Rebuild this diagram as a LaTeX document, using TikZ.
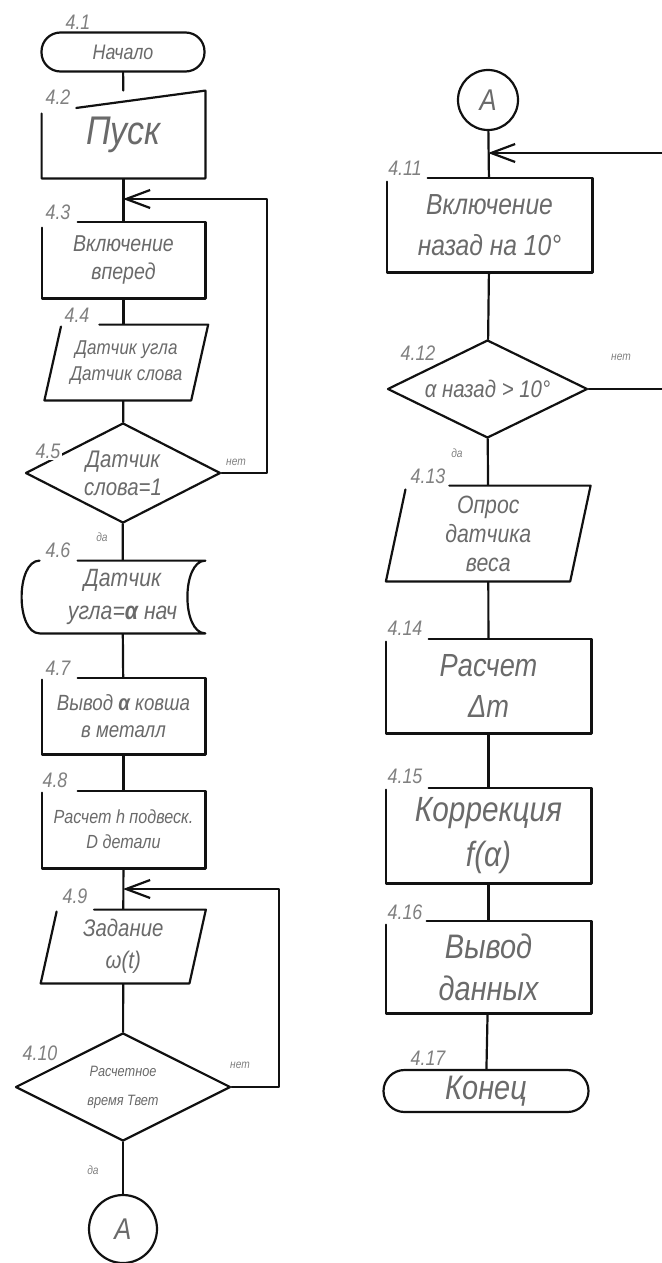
\documentclass[tikz,border=0pt]{standalone}
\usepackage{fontspec}
\newfontfamily\gf[FakeStretch=0.85]{Liberation Sans}
\usetikzlibrary{shapes.geometric,arrows.meta,calc}
\pgfdeclarelayer{bg}
\pgfdeclarelayer{mid}
\pgfsetlayers{bg,mid,main}
\definecolor{ink}{HTML}{111111}
\definecolor{txt}{HTML}{6A6A6A}
\definecolor{numc}{HTML}{808080}
\newcommand\gfs[2]{\gf\itshape\fontsize{#1}{#2}\selectfont}
% rectangle with a gap at the top-left corner
\newcommand\gbox[3]{%
  \begin{pgfonlayer}{mid}
  \fill[white] (#1.north west) rectangle (#1.south east);
  \draw[ln] ([xshift=#2]#1.north west) -- (#1.north east) -- (#1.south east) -- (#1.south west) -- ([yshift=-#3]#1.north west);
  \end{pgfonlayer}}
% parallelogram: name, slant, gap x, gap along left edge
\newcommand\gpara[4]{%
  \begin{pgfonlayer}{mid}
  \fill[white] ([xshift=#2]#1.north west) -- ([xshift=#2]#1.north east) -- ([xshift=-#2]#1.south east) -- ([xshift=-#2]#1.south west) -- cycle;
  \draw[ln] ($([xshift=#2]#1.north west)!#3!([xshift=#2]#1.north east)$) -- ([xshift=#2]#1.north east) -- ([xshift=-#2]#1.south east) -- ([xshift=-#2]#1.south west) -- ($([xshift=#2]#1.north west)!#4!([xshift=-#2]#1.south west)$);
  \end{pgfonlayer}}
\tikzset{
  ln/.style={line width=1.1pt, draw=ink, line cap=round, line join=round},
  blk/.style={draw=none, inner sep=0pt, align=center},
  term/.style={ln, fill=white, rounded corners=9.5pt, inner sep=0pt, align=center},
  dia/.style={ln, fill=white, diamond, aspect=2, inner sep=0pt, align=center},
  conn/.style={ln, circle, fill=white, inner sep=0pt, font=\gfs{15}{15}},
  num/.style={fill=white, inner sep=1pt, text=numc, font=\gfs{10.5}{10.5}},
  yn/.style={inner sep=0pt, text=numc, font=\gfs{6}{6}},
  wire/.style={ln},
  back/.style={ln, -{Straight Barb[length=12pt,width=9pt,line width=1.1pt]}},
}
\begin{document}
\begin{tikzpicture}[x=0.5pt, y=-0.5pt, font=\gfs{10}{12}, text=txt]
\useasboundingbox (0,0) rectangle (661,1263);

% ---------- left column ----------
\node[term, minimum width=81.5pt, minimum height=19.5pt, font=\gfs{10.5}{11}] (b1) at (123,52) {Начало};
\node[blk, minimum width=81.5pt, minimum height=43.5pt, font=\gfs{20}{22}] (b2) at (123.5,134.5) {Пуск};
\node[blk, minimum width=81.5pt, minimum height=38pt, font=\gfs{11.5}{14}] (b3) at (123.5,260) {Включение\\вперед};
\node[blk, minimum width=73pt, minimum height=37.5pt, font=\gfs{10}{13}] (b4) at (126.3,362.5) {Датчик угла\\Датчик слова};
\node[dia, minimum width=97.5pt, minimum height=50pt, font=\gfs{12}{14}] (b5) at (123,473) {Датчик\\слова=1};
\node[blk, minimum width=82.5pt, minimum height=36pt, font=\gfs{12.5}{16.5}] (b6) at (122.5,597) {Датчик\\угла=\textbf{α} нач};
\node[blk, minimum width=81.5pt, minimum height=38pt, font=\gfs{11}{13.5}] (b7) at (123.5,716) {Вывод \textbf{α} ковша\\в металл};
\node[blk, minimum width=81.5pt, minimum height=38.5pt, font=\gfs{9.5}{12.5}] (b8) at (123.5,829.5) {Расчет h подвеск.\\D детали};
\node[blk, minimum width=74pt, minimum height=36.5pt, font=\gfs{12}{16}] (b9) at (123.25,946.5) {Задание\\ω(t)};
\node[dia, minimum width=107.5pt, minimum height=54pt, font=\gfs{7.5}{14.5}] (b10) at (123,1087) {Расчетное\\время Твет};
\node[conn, minimum size=34pt] (A1) at (123,1229) {A};

% ---------- right column ----------
\node[conn, minimum size=30pt] (A2) at (488,100) {A};
\node[blk, minimum width=102.5pt, minimum height=47pt, font=\gfs{14.5}{20.5}] (b11) at (489.5,225) {Включение\\назад на 10°};
\node[dia, minimum width=100pt, minimum height=49pt, font=\gfs{12}{12}] (b12) at (487.5,389) {α назад > 10°};
\node[blk, minimum width=91.75pt, minimum height=47.5pt, font=\gfs{12.5}{14.5}] (b13) at (488.25,533.5) {Опрос\\датчика\\веса};
\node[blk, minimum width=102.5pt, minimum height=47pt, font=\gfs{16}{20.5}] (b14) at (488.5,686) {Расчет\\Δm};
\node[blk, minimum width=102.5pt, minimum height=47.5pt, font=\gfs{17.5}{22.5}] (b15) at (488.5,835.5) {Коррекция\\f(α)};
\node[blk, minimum width=102.5pt, minimum height=46pt, font=\gfs{17}{21}] (b16) at (488.5,967) {Вывод\\данных};
\node[term, minimum width=102.5pt, minimum height=21pt, rounded corners=10.5pt, font=\gfs{17}{17}] (b17) at (486,1091) {Конец};

% ---------- shapes ----------
\begin{pgfonlayer}{mid}
  \fill[white] ([yshift=-11pt]b2.north west) -- (b2.north east) -- (b2.south east) -- (b2.south west) -- cycle;
  \draw[ln] ($([yshift=-11pt]b2.north west)!17.5pt!(b2.north east)$) -- (b2.north east) -- (b2.south east) -- (b2.south west) -- ([yshift=-11.5pt]b2.north west);
  \fill[white] (b6.north east) .. controls ([xshift=-12pt]b6.north east) and ([xshift=-12pt]b6.south east) .. (b6.south east) -- (b6.south west) .. controls ([xshift=-12pt]b6.south west) and ([xshift=-12pt]b6.north west) .. (b6.north west) -- cycle;
  \draw[ln] ([xshift=19pt]b6.north west) -- (b6.north east) .. controls ([xshift=-12pt]b6.north east) and ([xshift=-12pt]b6.south east) .. (b6.south east) -- (b6.south west) .. controls ([xshift=-12pt]b6.south west) and ([xshift=-12pt]b6.north west) .. (b6.north west);
\end{pgfonlayer}
\gbox{b3}{18pt}{3pt}
\gpara{b4}{4.25pt}{19pt}{1pt}
\gbox{b7}{18pt}{1pt}
\gbox{b8}{18pt}{1pt}
\gpara{b9}{4.1pt}{18.5pt}{1pt}
\gbox{b11}{20.5pt}{2pt}
\gpara{b13}{5.1pt}{21.5pt}{2pt}
\gbox{b14}{21.5pt}{1.5pt}
\gbox{b15}{21.5pt}{1pt}
\gbox{b16}{20.5pt}{2pt}

% ---------- connectors ----------
\coordinate (m1) at (123,199);
\coordinate (m2) at (123,889);
\coordinate (m3) at (488,153);
\begin{pgfonlayer}{bg}
  \draw[wire] (b1) -- (b2);
  \draw[wire] (b2) -- (b3);
  \draw[wire] (b3) -- (b3 |- b4);
  \draw[wire] (b3 |- b4) -- (b5);
  \draw[wire] (b5) -- (b6);
  \draw[wire] (b6) -- (b7);
  \draw[wire] (b7) -- (b8);
  \draw[wire] (b8) -- (b9);
  \draw[wire] (b9) -- (b10);
  \draw[wire] (b10) -- (A1);
  \draw[back] (b5.east) -- ++(45,0) |- (m1);
  \draw[back] (b10.east) -- ++(47,0) |- (m2);
  \draw[wire] (A2) -- (b11);
  \draw[wire] (b11) -- (b12);
  \draw[wire] (b12) -- (b13);
  \draw[wire] (b13) -- (b14);
  \draw[wire] (b14) -- (b15);
  \draw[wire] (b15) -- (b16);
  \draw[wire] (b16) -- (b17);
  \draw[back] (b12.east) -- ++(76,0) |- (m3);
\end{pgfonlayer}

% ---------- yes / no ----------
\node[yn] (n5) at (236,462) {нет};
\node[yn] (y5) at (102,537) {да};
\node[yn] (n10) at (240,1065) {нет};
\node[yn] (y10) at (93,1170) {да};
\node[yn] (n12) at (621,357) {нет};
\node[yn] (y12) at (457,453) {да};

% ---------- numbers ----------
\node[num] (l1) at (78,22) {4.1};
\node[num] (l2) at (58,97) {4.2};
\node[num] (l3) at (58,212) {4.3};
\node[num] (l4) at (77,315) {4.4};
\node[num] (l5) at (48,451) {4.5};
\node[num] (l6) at (58,550) {4.6};
\node[num] (l7) at (58,668) {4.7};
\node[num] (l8) at (55,780) {4.8};
\node[num] (l9) at (75,896) {4.9};
\node[num] (l10) at (40,1053) {4.10};
\node[num] (l11) at (405,168) {4.11};
\node[num] (l12) at (418,353) {4.12};
\node[num] (l13) at (428,476) {4.13};
\node[num] (l14) at (405,628) {4.14};
\node[num] (l15) at (405,776) {4.15};
\node[num] (l16) at (405,912) {4.16};
\node[num] (l17) at (428,1058) {4.17};
\end{tikzpicture}
\end{document}
